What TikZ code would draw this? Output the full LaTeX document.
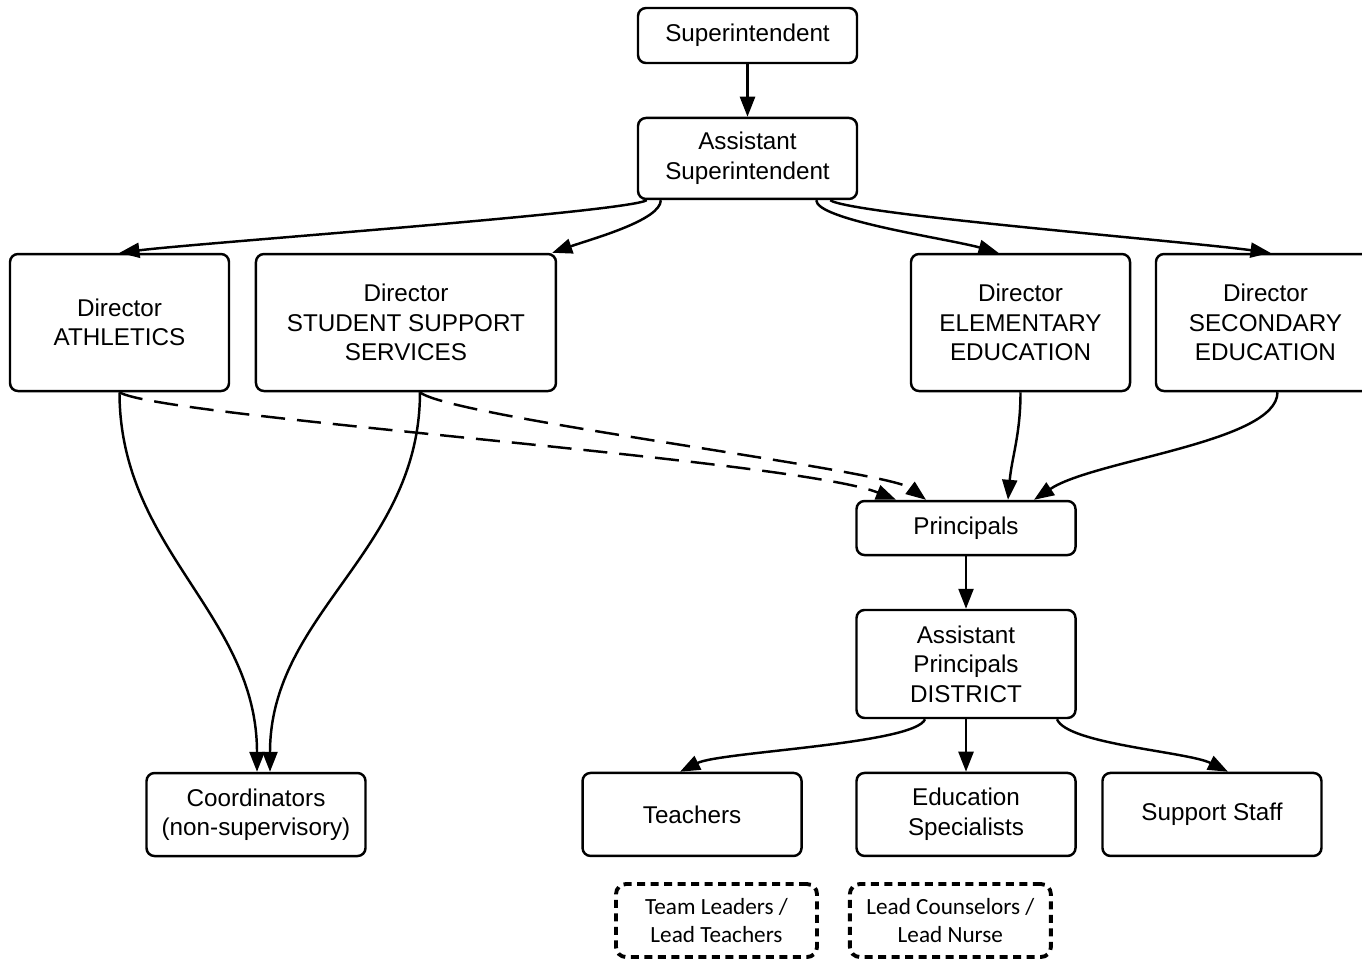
\documentclass[tikz,border=0pt]{standalone}
\usepackage{fontspec}
\setmainfont{Liberation Sans}
\newfontfamily\leadfont{Carlito}
\usetikzlibrary{arrows.meta,positioning}

\begin{document}
\begin{tikzpicture}[
    x=0.1mm, y=-0.1mm,
    node distance=5.25mm,
    unit/.style={rectangle, draw, line width=0.7pt, rounded corners=0.8mm, minimum width=21.9mm, inner sep=0pt, align=center, font=\fontsize{6.9}{8.4}\selectfont},
    lead/.style={rectangle, draw, line width=1.1pt, dash pattern=on 0.8mm off 0.55mm, rounded corners=1mm, minimum width=20.1mm, minimum height=7.3mm, inner sep=0pt, align=center, font=\leadfont\fontsize{6.6}{8.2}\selectfont},
    arrow/.style={-{Triangle[length=2mm, width=1.5mm]}, line width=0.7pt},
    dotline/.style={arrow, dash pattern=on 2.4mm off 1.2mm}
]
\useasboundingbox (0,0) rectangle (1362,959);
\clip (0,0) rectangle (1362,959);

% Top
\node[unit, minimum height=5.5mm] (sup) at (747.5,35.5) {Superintendent};
\node[unit, minimum height=8.1mm, below=of sup] (asup) {Assistant\\Superintendent};

% Directors
\node[unit, minimum height=13.7mm] (ath) at (119.5,322.5) {Director\\ATHLETICS};
\node[unit, minimum width=30mm, minimum height=13.7mm, right=2.45mm of ath] (sss) {Director\\STUDENT SUPPORT\\SERVICES};
\node[unit, minimum height=13.7mm] (elem) at (1020.5,322.5) {Director\\ELEMENTARY\\EDUCATION};
\node[unit, minimum height=13.7mm, right=2.35mm of elem] (sec) {Director\\SECONDARY\\EDUCATION};

% Schools
\node[unit, minimum height=5.4mm] (prin) at (966,528) {Principals};
\node[unit, minimum height=10.8mm, below=of prin] (ap) {Assistant\\Principals\\DISTRICT};
\node[unit, minimum height=8.3mm, below=of ap] (spec) {Education\\Specialists};
\node[unit, minimum height=8.3mm, left=of spec] (teach) {Teachers};
\node[unit, minimum height=8.3mm, right=2.45mm of spec] (staff) {Support Staff};
\node[unit, minimum height=8.3mm] (coord) at (256,814.5) {Coordinators\\(non-supervisory)};

% Leads
\node[lead] (tl) at (716.5,920.5) {Team Leaders /\\Lead Teachers};
\node[lead, right=2.9mm of tl] (lc) {Lead Counselors /\\Lead Nurse};

% Arrows
\draw[arrow] (sup) -- (asup);
\draw[arrow] ([xshift=1mm]asup.south west) .. controls +(-20,12) and +(80,-10) .. (ath.north);
\draw[arrow] ([xshift=2.4mm]asup.south west) .. controls +(0,20) and +(40,-14) .. ([xshift=-0.5mm]sss.north east);
\draw[arrow] ([xshift=-4.2mm]asup.south east) .. controls +(0,20) and +(-50,-14) .. ([xshift=-2.2mm]elem.north);
\draw[arrow] ([xshift=-2.8mm]asup.south east) .. controls +(20,14) and +(-90,-12) .. ([xshift=0.5mm]sec.north);
\draw[arrow] (ath.south) to[out=-90, in=90] ([xshift=0.1mm]coord.north);
\draw[arrow] ([xshift=1.4mm]sss.south) to[out=-90, in=90] ([xshift=1.4mm]coord.north);
\draw[dotline] (ath.south) .. controls +(40,25) and +(-100,-40) .. ([xshift=-7mm]prin.north);
\draw[dotline] ([xshift=1.4mm]sss.south) .. controls +(30,25) and +(-40,-30) .. ([xshift=-4mm]prin.north);
\draw[arrow] (elem.south) to[out=-90, in=85] ([xshift=4.2mm]prin.north);
\draw[arrow] ([xshift=1.2mm]sec.south) .. controls +(0,50) and +(60,-40) .. ([xshift=6.8mm]prin.north);
\draw[arrow] (prin) -- (ap);
\draw[arrow] ([xshift=-4.1mm]ap.south) .. controls +(-10,25) and +(40,-20) .. ([xshift=-1.2mm]teach.north);
\draw[arrow] (ap) -- (spec);
\draw[arrow] ([xshift=9.1mm]ap.south) .. controls +(10,25) and +(-40,-20) .. ([xshift=1.6mm]staff.north);

\end{tikzpicture}
\end{document}
